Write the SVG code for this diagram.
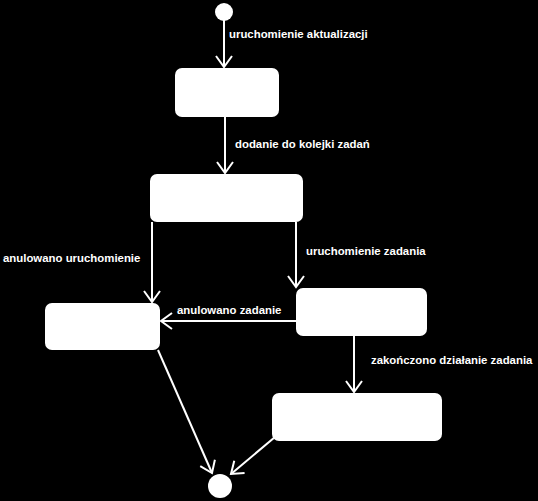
<svg xmlns="http://www.w3.org/2000/svg" width="538" height="501" viewBox="0 0 538 501">
<style>
.node{fill:#fff;stroke:none}
.edge{stroke:#fff;stroke-width:2;fill:none}
.lbl{fill:#fff;font-family:"Liberation Sans",Arial,sans-serif;font-weight:bold;font-size:11.4px}
</style>
<defs>
<marker id="arr" markerUnits="userSpaceOnUse" markerWidth="20" markerHeight="20" viewBox="-12 -10 14 20" refX="0" refY="0" orient="auto">
<path d="M-11,-8 L0,0 L-11,8" fill="none" stroke="#fff" stroke-width="2"/>
</marker>
</defs>
<rect width="538" height="501" fill="#000"/>
<g id="connectors">
<line class="edge" x1="224" y1="20" x2="224" y2="67" marker-end="url(#arr)"/>
<line class="edge" x1="225" y1="117" x2="225" y2="173" marker-end="url(#arr)"/>
<line class="edge" x1="152" y1="222" x2="152" y2="302" marker-end="url(#arr)"/>
<line class="edge" x1="296" y1="222" x2="296" y2="287" marker-end="url(#arr)"/>
<line class="edge" x1="296" y1="321" x2="161" y2="321" marker-end="url(#arr)"/>
<line class="edge" x1="354" y1="336" x2="354" y2="392" marker-end="url(#arr)"/>
<line class="edge" x1="158" y1="350" x2="212" y2="473" marker-end="url(#arr)"/>
<line class="edge" x1="275" y1="437" x2="231" y2="474" marker-end="url(#arr)"/>
</g>
<g id="start"><circle class="node" cx="224" cy="12" r="9"/></g>
<g id="state1"><rect class="node" x="175" y="68" width="104" height="49" rx="7"/></g>
<g id="state2"><rect class="node" x="150" y="174" width="153" height="48" rx="7"/></g>
<g id="state3"><rect class="node" x="45" y="303" width="115" height="47" rx="7"/></g>
<g id="state4"><rect class="node" x="296" y="288" width="131" height="48" rx="7"/></g>
<g id="state5"><rect class="node" x="272" y="393" width="170" height="48" rx="7"/></g>
<g id="end"><circle class="node" cx="220" cy="486" r="12"/></g>
<g id="labels">
<text class="lbl" x="229" y="38">uruchomienie aktualizacji</text>
<text class="lbl" x="235" y="148">dodanie do kolejki zadań</text>
<text class="lbl" x="3" y="262">anulowano uruchomienie</text>
<text class="lbl" x="306" y="255">uruchomienie zadania</text>
<text class="lbl" x="177" y="314">anulowano zadanie</text>
<text class="lbl" x="371" y="364">zakończono działanie zadania</text>
</g>
</svg>
